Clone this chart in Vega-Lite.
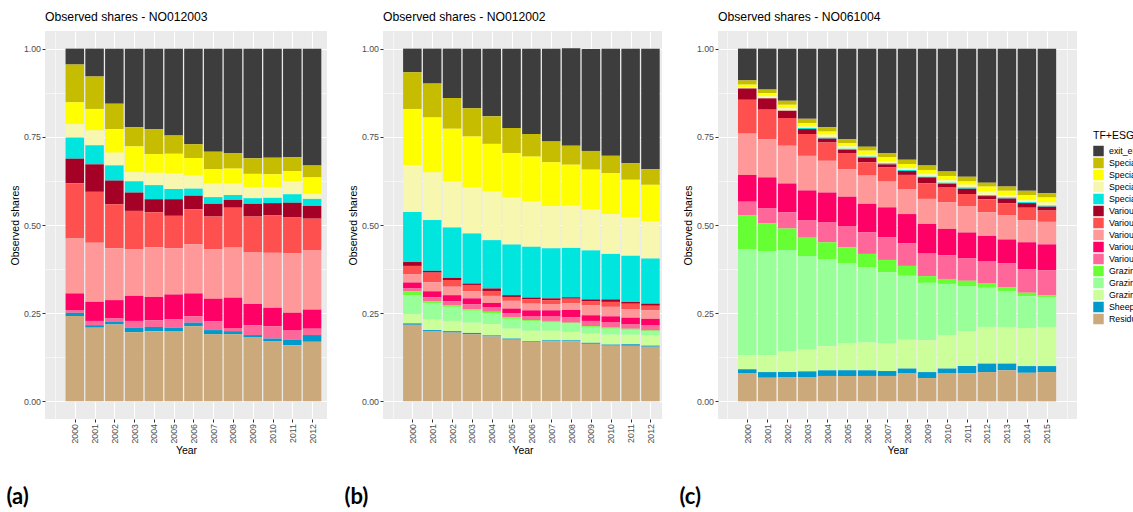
{
  "$schema": "https://vega.github.io/schema/vega-lite/v6.json",
  "background": "white",
  "padding": {"left": 6, "top": 10, "right": 0, "bottom": 0},
  "spacing": 17,
  "config": {
    "font": "Liberation Sans",
    "view": {"fill": "#EBEBEB", "stroke": null},
    "axis": {
      "domain": false,
      "gridColor": "white",
      "tickColor": "#333333",
      "tickSize": 3,
      "tickWidth": 1,
      "labelColor": "#4D4D4D",
      "labelFontSize": 8.8,
      "labelPadding": 1.5,
      "labelOverlap": false,
      "labelFlush": false,
      "titleColor": "black",
      "titleFontSize": 10.5,
      "titleFontWeight": "normal"
    },
    "title": {"fontSize": 12.2, "fontWeight": "normal", "color": "black", "anchor": "start", "frame": "group", "offset": 8},
    "legend": {
      "orient": "none",
      "legendX": 1048,
      "legendY": 100,
      "titleFontSize": 10.5,
      "titleFontWeight": "normal",
      "titleColor": "black",
      "labelFontSize": 8.8,
      "labelColor": "black",
      "symbolType": "square",
      "symbolSize": 110,
      "symbolStrokeWidth": 0,
      "rowPadding": 1,
      "titlePadding": 4,
      "labelOffset": 5
    }
  },
  "datasets": {
    "groups": [
      {"key": "exit", "label": "exit_entry", "rank": 15},
      {"key": "spec1", "label": "Specialist field crops, large", "rank": 14},
      {"key": "spec2", "label": "Specialist field crops, medium", "rank": 13},
      {"key": "spec3", "label": "Specialist field crops, small", "rank": 12},
      {"key": "spec4", "label": "Specialist horticulture", "rank": 11},
      {"key": "var1", "label": "Various crops, large", "rank": 10},
      {"key": "var2", "label": "Various crops, medium", "rank": 9},
      {"key": "var3", "label": "Various crops, small", "rank": 8},
      {"key": "var4", "label": "Various livestock, large", "rank": 7},
      {"key": "var5", "label": "Various livestock, small", "rank": 6},
      {"key": "graz1", "label": "Grazing livestock, large", "rank": 5},
      {"key": "graz2", "label": "Grazing livestock, medium", "rank": 4},
      {"key": "graz3", "label": "Grazing livestock, small", "rank": 3},
      {"key": "sheep", "label": "Sheep and goats", "rank": 2},
      {"key": "resid", "label": "Residual", "rank": 1}
    ],
    "NO012003": [
      {"year": 2000, "exit": 0.045, "spec1": 0.107, "spec2": 0.062, "spec3": 0.038, "spec4": 0.060, "var1": 0.070, "var2": 0.156, "var3": 0.156, "var4": 0.047, "var5": 0.008, "graz1": 0, "graz2": 0, "graz3": 0, "sheep": 0.009, "resid": 0.242},
      {"year": 2001, "exit": 0.079, "spec1": 0.092, "spec2": 0.061, "spec3": 0.042, "spec4": 0.054, "var1": 0.078, "var2": 0.144, "var3": 0.168, "var4": 0.054, "var5": 0.012, "graz1": 0, "graz2": 0, "graz3": 0, "sheep": 0.007, "resid": 0.209},
      {"year": 2002, "exit": 0.156, "spec1": 0.072, "spec2": 0.067, "spec3": 0.036, "spec4": 0.043, "var1": 0.067, "var2": 0.125, "var3": 0.147, "var4": 0.052, "var5": 0.010, "graz1": 0, "graz2": 0, "graz3": 0, "sheep": 0.007, "resid": 0.218},
      {"year": 2003, "exit": 0.223, "spec1": 0.054, "spec2": 0.073, "spec3": 0.026, "spec4": 0.032, "var1": 0.052, "var2": 0.109, "var3": 0.132, "var4": 0.071, "var5": 0.019, "graz1": 0, "graz2": 0, "graz3": 0, "sheep": 0.013, "resid": 0.196},
      {"year": 2004, "exit": 0.228, "spec1": 0.071, "spec2": 0.053, "spec3": 0.035, "spec4": 0.040, "var1": 0.037, "var2": 0.099, "var3": 0.141, "var4": 0.066, "var5": 0.019, "graz1": 0, "graz2": 0, "graz3": 0, "sheep": 0.012, "resid": 0.199},
      {"year": 2005, "exit": 0.246, "spec1": 0.052, "spec2": 0.055, "spec3": 0.045, "spec4": 0.029, "var1": 0.047, "var2": 0.092, "var3": 0.131, "var4": 0.070, "var5": 0.024, "graz1": 0, "graz2": 0, "graz3": 0, "sheep": 0.011, "resid": 0.198},
      {"year": 2006, "exit": 0.271, "spec1": 0.039, "spec2": 0.050, "spec3": 0.037, "spec4": 0.020, "var1": 0.038, "var2": 0.100, "var3": 0.139, "var4": 0.065, "var5": 0.018, "graz1": 0, "graz2": 0, "graz3": 0, "sheep": 0.010, "resid": 0.213},
      {"year": 2007, "exit": 0.292, "spec1": 0.050, "spec2": 0.040, "spec3": 0.039, "spec4": 0.019, "var1": 0.036, "var2": 0.093, "var3": 0.140, "var4": 0.064, "var5": 0.025, "graz1": 0, "graz2": 0, "graz3": 0, "sheep": 0.012, "resid": 0.190},
      {"year": 2008, "exit": 0.296, "spec1": 0.044, "spec2": 0.042, "spec3": 0.033, "spec4": 0.014, "var1": 0.022, "var2": 0.113, "var3": 0.142, "var4": 0.086, "var5": 0.009, "graz1": 0, "graz2": 0, "graz3": 0, "sheep": 0.009, "resid": 0.190},
      {"year": 2009, "exit": 0.311, "spec1": 0.044, "spec2": 0.038, "spec3": 0.031, "spec4": 0.016, "var1": 0.036, "var2": 0.102, "var3": 0.146, "var4": 0.060, "var5": 0.028, "graz1": 0, "graz2": 0, "graz3": 0, "sheep": 0.007, "resid": 0.181},
      {"year": 2010, "exit": 0.309, "spec1": 0.047, "spec2": 0.037, "spec3": 0.030, "spec4": 0.015, "var1": 0.034, "var2": 0.107, "var3": 0.156, "var4": 0.052, "var5": 0.035, "graz1": 0, "graz2": 0, "graz3": 0, "sheep": 0.007, "resid": 0.171},
      {"year": 2011, "exit": 0.308, "spec1": 0.039, "spec2": 0.028, "spec3": 0.038, "spec4": 0.024, "var1": 0.042, "var2": 0.101, "var3": 0.169, "var4": 0.049, "var5": 0.027, "graz1": 0, "graz2": 0, "graz3": 0, "sheep": 0.016, "resid": 0.159},
      {"year": 2012, "exit": 0.331, "spec1": 0.034, "spec2": 0.047, "spec3": 0.014, "spec4": 0.020, "var1": 0.036, "var2": 0.089, "var3": 0.169, "var4": 0.054, "var5": 0.018, "graz1": 0, "graz2": 0, "graz3": 0, "sheep": 0.019, "resid": 0.169}
    ],
    "NO012002": [
      {"year": 2000, "exit": 0.067, "spec1": 0.104, "spec2": 0.159, "spec3": 0.133, "spec4": 0.142, "var1": 0.011, "var2": 0.023, "var3": 0.024, "var4": 0.017, "var5": 0.008, "graz1": 0.011, "graz2": 0.054, "graz3": 0.026, "sheep": 0.004, "resid": 0.217},
      {"year": 2001, "exit": 0.099, "spec1": 0.096, "spec2": 0.156, "spec3": 0.135, "spec4": 0.144, "var1": 0.005, "var2": 0.027, "var3": 0.026, "var4": 0.017, "var5": 0.011, "graz1": 0.005, "graz2": 0.047, "graz3": 0.030, "sheep": 0.004, "resid": 0.198},
      {"year": 2002, "exit": 0.140, "spec1": 0.087, "spec2": 0.150, "spec3": 0.130, "spec4": 0.143, "var1": 0.006, "var2": 0.019, "var3": 0.024, "var4": 0.017, "var5": 0.011, "graz1": 0.005, "graz2": 0.040, "graz3": 0.029, "sheep": 0.004, "resid": 0.195},
      {"year": 2003, "exit": 0.169, "spec1": 0.080, "spec2": 0.145, "spec3": 0.130, "spec4": 0.142, "var1": 0.004, "var2": 0.018, "var3": 0.020, "var4": 0.017, "var5": 0.014, "graz1": 0.004, "graz2": 0.034, "graz3": 0.029, "sheep": 0.004, "resid": 0.190},
      {"year": 2004, "exit": 0.192, "spec1": 0.078, "spec2": 0.135, "spec3": 0.138, "spec4": 0.137, "var1": 0.007, "var2": 0.014, "var3": 0.020, "var4": 0.013, "var5": 0.012, "graz1": 0.005, "graz2": 0.030, "graz3": 0.032, "sheep": 0.003, "resid": 0.184},
      {"year": 2005, "exit": 0.225, "spec1": 0.071, "spec2": 0.126, "spec3": 0.133, "spec4": 0.144, "var1": 0.005, "var2": 0.011, "var3": 0.022, "var4": 0.014, "var5": 0.011, "graz1": 0.004, "graz2": 0.028, "graz3": 0.028, "sheep": 0.003, "resid": 0.175},
      {"year": 2006, "exit": 0.242, "spec1": 0.064, "spec2": 0.127, "spec3": 0.129, "spec4": 0.144, "var1": 0.004, "var2": 0.013, "var3": 0.019, "var4": 0.016, "var5": 0.012, "graz1": 0.003, "graz2": 0.027, "graz3": 0.029, "sheep": 0.002, "resid": 0.169},
      {"year": 2007, "exit": 0.263, "spec1": 0.059, "spec2": 0.124, "spec3": 0.120, "spec4": 0.142, "var1": 0.005, "var2": 0.011, "var3": 0.018, "var4": 0.016, "var5": 0.014, "graz1": 0.003, "graz2": 0.025, "graz3": 0.027, "sheep": 0.003, "resid": 0.170},
      {"year": 2008, "exit": 0.276, "spec1": 0.054, "spec2": 0.116, "spec3": 0.120, "spec4": 0.140, "var1": 0.004, "var2": 0.013, "var3": 0.019, "var4": 0.021, "var5": 0.015, "graz1": 0.002, "graz2": 0.024, "graz3": 0.024, "sheep": 0.003, "resid": 0.170},
      {"year": 2009, "exit": 0.289, "spec1": 0.053, "spec2": 0.113, "spec3": 0.116, "spec4": 0.139, "var1": 0.006, "var2": 0.011, "var3": 0.028, "var4": 0.016, "var5": 0.015, "graz1": 0.004, "graz2": 0.017, "graz3": 0.026, "sheep": 0.003, "resid": 0.163},
      {"year": 2010, "exit": 0.304, "spec1": 0.049, "spec2": 0.116, "spec3": 0.113, "spec4": 0.129, "var1": 0.007, "var2": 0.014, "var3": 0.027, "var4": 0.016, "var5": 0.016, "graz1": 0.003, "graz2": 0.017, "graz3": 0.028, "sheep": 0.003, "resid": 0.158},
      {"year": 2011, "exit": 0.325, "spec1": 0.047, "spec2": 0.106, "spec3": 0.109, "spec4": 0.131, "var1": 0.005, "var2": 0.015, "var3": 0.025, "var4": 0.019, "var5": 0.012, "graz1": 0.003, "graz2": 0.014, "graz3": 0.027, "sheep": 0.004, "resid": 0.158},
      {"year": 2012, "exit": 0.342, "spec1": 0.044, "spec2": 0.103, "spec3": 0.106, "spec4": 0.128, "var1": 0.006, "var2": 0.013, "var3": 0.024, "var4": 0.019, "var5": 0.014, "graz1": 0.003, "graz2": 0.011, "graz3": 0.029, "sheep": 0.003, "resid": 0.155}
    ],
    "NO061004": [
      {"year": 2000, "exit": 0.090, "spec1": 0.012, "spec2": 0.007, "spec3": 0.004, "spec4": 0, "var1": 0.032, "var2": 0.096, "var3": 0.117, "var4": 0.076, "var5": 0.038, "graz1": 0.096, "graz2": 0.301, "graz3": 0.040, "sheep": 0.012, "resid": 0.079},
      {"year": 2001, "exit": 0.116, "spec1": 0.010, "spec2": 0.009, "spec3": 0.006, "spec4": 0, "var1": 0.032, "var2": 0.084, "var3": 0.108, "var4": 0.087, "var5": 0.043, "graz1": 0.079, "graz2": 0.295, "graz3": 0.048, "sheep": 0.016, "resid": 0.067},
      {"year": 2002, "exit": 0.148, "spec1": 0.011, "spec2": 0.010, "spec3": 0.007, "spec4": 0, "var1": 0.021, "var2": 0.078, "var3": 0.107, "var4": 0.082, "var5": 0.046, "graz1": 0.061, "graz2": 0.287, "graz3": 0.059, "sheep": 0.014, "resid": 0.069},
      {"year": 2003, "exit": 0.199, "spec1": 0.012, "spec2": 0.010, "spec3": 0.004, "spec4": 0.003, "var1": 0.014, "var2": 0.062, "var3": 0.098, "var4": 0.084, "var5": 0.050, "graz1": 0.052, "graz2": 0.265, "graz3": 0.062, "sheep": 0.016, "resid": 0.069},
      {"year": 2004, "exit": 0.223, "spec1": 0.012, "spec2": 0.009, "spec3": 0.008, "spec4": 0.003, "var1": 0.011, "var2": 0.052, "var3": 0.090, "var4": 0.085, "var5": 0.056, "graz1": 0.049, "graz2": 0.246, "graz3": 0.068, "sheep": 0.016, "resid": 0.072},
      {"year": 2005, "exit": 0.256, "spec1": 0.012, "spec2": 0.009, "spec3": 0.007, "spec4": 0.003, "var1": 0.009, "var2": 0.046, "var3": 0.078, "var4": 0.083, "var5": 0.060, "graz1": 0.046, "graz2": 0.227, "graz3": 0.076, "sheep": 0.016, "resid": 0.072},
      {"year": 2006, "exit": 0.278, "spec1": 0.011, "spec2": 0.012, "spec3": 0.005, "spec4": 0.003, "var1": 0.013, "var2": 0.038, "var3": 0.080, "var4": 0.081, "var5": 0.061, "graz1": 0.038, "graz2": 0.213, "graz3": 0.079, "sheep": 0.016, "resid": 0.072},
      {"year": 2007, "exit": 0.296, "spec1": 0.012, "spec2": 0.012, "spec3": 0.005, "spec4": 0.003, "var1": 0.009, "var2": 0.040, "var3": 0.073, "var4": 0.085, "var5": 0.064, "graz1": 0.035, "graz2": 0.202, "graz3": 0.078, "sheep": 0.014, "resid": 0.072},
      {"year": 2008, "exit": 0.315, "spec1": 0.012, "spec2": 0.012, "spec3": 0.005, "spec4": 0.003, "var1": 0.011, "var2": 0.040, "var3": 0.071, "var4": 0.083, "var5": 0.064, "graz1": 0.028, "graz2": 0.181, "graz3": 0.082, "sheep": 0.014, "resid": 0.079},
      {"year": 2009, "exit": 0.331, "spec1": 0.013, "spec2": 0.011, "spec3": 0.008, "spec4": 0.002, "var1": 0.017, "var2": 0.044, "var3": 0.071, "var4": 0.084, "var5": 0.064, "graz1": 0.019, "graz2": 0.163, "graz3": 0.090, "sheep": 0.017, "resid": 0.066},
      {"year": 2010, "exit": 0.348, "spec1": 0.013, "spec2": 0.012, "spec3": 0.007, "spec4": 0.003, "var1": 0.011, "var2": 0.041, "var3": 0.076, "var4": 0.075, "var5": 0.067, "graz1": 0.014, "graz2": 0.145, "graz3": 0.095, "sheep": 0.014, "resid": 0.079},
      {"year": 2011, "exit": 0.363, "spec1": 0.014, "spec2": 0.009, "spec3": 0.008, "spec4": 0.003, "var1": 0.015, "var2": 0.034, "var3": 0.075, "var4": 0.074, "var5": 0.063, "graz1": 0.015, "graz2": 0.128, "graz3": 0.099, "sheep": 0.020, "resid": 0.080},
      {"year": 2012, "exit": 0.380, "spec1": 0.011, "spec2": 0.014, "spec3": 0.010, "spec4": 0.003, "var1": 0.009, "var2": 0.037, "var3": 0.067, "var4": 0.071, "var5": 0.064, "graz1": 0.012, "graz2": 0.111, "graz3": 0.104, "sheep": 0.024, "resid": 0.083},
      {"year": 2013, "exit": 0.391, "spec1": 0.012, "spec2": 0.012, "spec3": 0.007, "spec4": 0.003, "var1": 0.013, "var2": 0.035, "var3": 0.068, "var4": 0.068, "var5": 0.068, "graz1": 0.010, "graz2": 0.102, "graz3": 0.104, "sheep": 0.019, "resid": 0.088},
      {"year": 2014, "exit": 0.403, "spec1": 0.012, "spec2": 0.014, "spec3": 0.006, "spec4": 0.003, "var1": 0.013, "var2": 0.035, "var3": 0.063, "var4": 0.077, "var5": 0.066, "graz1": 0.010, "graz2": 0.090, "graz3": 0.108, "sheep": 0.019, "resid": 0.081},
      {"year": 2015, "exit": 0.410, "spec1": 0.012, "spec2": 0.014, "spec3": 0.009, "spec4": 0.003, "var1": 0.011, "var2": 0.032, "var3": 0.064, "var4": 0.073, "var5": 0.071, "graz1": 0.005, "graz2": 0.085, "graz3": 0.111, "sheep": 0.017, "resid": 0.083}
    ]
  },
  "hconcat": [
    {
      "title": {"text": "(a)", "orient": "bottom", "anchor": "start", "frame": "bounds", "fontSize": 22, "fontWeight": "bold", "font": "Lato", "offset": 31, "dx": -4, "color": "black"},
      "vconcat": [
        {
          "width": 282,
          "height": 388,
          "title": "Observed shares - NO012003",
          "data": {"name": "NO012003"},
          "transform": [
            {"fold": ["exit", "spec1", "spec2", "spec3", "spec4", "var1", "var2", "var3", "var4", "var5", "graz1", "graz2", "graz3", "sheep", "resid"], "as": ["key", "share"]},
            {"lookup": "key", "from": {"data": {"name": "groups"}, "key": "key", "fields": ["label", "rank"]}}
          ],
          "mark": {"type": "bar", "width": 18.5, "clip": true},
          "encoding": {
            "x": {
              "field": "year", "type": "quantitative",
              "scale": {"domain": [1998.746, 2012.502], "nice": false, "zero": false},
              "axis": {
                "title": "Year", "format": "d", "labelAngle": 270, "titlePadding": 2,
                "values": [1999, 1999.5, 2000, 2000.5, 2001, 2001.5, 2002, 2002.5, 2003, 2003.5, 2004, 2004.5, 2005, 2005.5, 2006, 2006.5, 2007, 2007.5, 2008, 2008.5, 2009, 2009.5, 2010, 2010.5, 2011, 2011.5, 2012, 2012.5],
                "labelExpr": "(datum.value % 1 != 0 || datum.value < 2000) ? '' : datum.label",
                "tickOpacity": {"condition": {"test": "datum.value % 1 != 0 || datum.value < 2000", "value": 0}, "value": 1},
                "gridWidth": {"condition": {"test": "datum.value % 1 != 0 || datum.value < 2000", "value": 0.55}, "value": 1.1}
              }
            },
            "y": {
              "field": "share", "type": "quantitative", "stack": "zero",
              "scale": {"domain": [-0.05, 1.05], "nice": false, "zero": false},
              "axis": {
                "title": "Observed shares", "format": ".2f", "titlePadding": 3,
                "values": [0, 0.125, 0.25, 0.375, 0.5, 0.625, 0.75, 0.875, 1],
                "labelExpr": "datum.value % 0.25 != 0 ? '' : datum.label",
                "tickOpacity": {"condition": {"test": "datum.value % 0.25 != 0", "value": 0}, "value": 1},
                "gridWidth": {"condition": {"test": "datum.value % 0.25 != 0", "value": 0.55}, "value": 1.1}
              }
            },
            "color": {
              "field": "label", "type": "nominal",
              "sort": ["exit_entry", "Specialist field crops, large", "Specialist field crops, medium", "Specialist field crops, small", "Specialist horticulture", "Various crops, large", "Various crops, medium", "Various crops, small", "Various livestock, large", "Various livestock, small", "Grazing livestock, large", "Grazing livestock, medium", "Grazing livestock, small", "Sheep and goats", "Residual"],
              "scale": {
                "domain": ["exit_entry", "Specialist field crops, large", "Specialist field crops, medium", "Specialist field crops, small", "Specialist horticulture", "Various crops, large", "Various crops, medium", "Various crops, small", "Various livestock, large", "Various livestock, small", "Grazing livestock, large", "Grazing livestock, medium", "Grazing livestock, small", "Sheep and goats", "Residual"],
                "range": ["#3D3D3D", "#C6BD00", "#FFFF00", "#F7F7B0", "#00E5DE", "#A50026", "#FF5050", "#FF9999", "#FF0066", "#FF6699", "#66FF33", "#99FF99", "#CCFF99", "#0099CC", "#CCA97B"]
              },
              "legend": {"title": "TF+ESG"}
            },
            "order": {"field": "rank", "type": "quantitative", "sort": "ascending"}
          }
        }
      ]
    },
    {
      "title": {"text": "(b)", "orient": "bottom", "anchor": "start", "frame": "bounds", "fontSize": 22, "fontWeight": "bold", "font": "Lato", "offset": 31, "dx": -4, "color": "black"},
      "vconcat": [
        {
          "width": 279,
          "height": 388,
          "title": "Observed shares - NO012002",
          "data": {"name": "NO012002"},
          "transform": [
            {"fold": ["exit", "spec1", "spec2", "spec3", "spec4", "var1", "var2", "var3", "var4", "var5", "graz1", "graz2", "graz3", "sheep", "resid"], "as": ["key", "share"]},
            {"lookup": "key", "from": {"data": {"name": "groups"}, "key": "key", "fields": ["label", "rank"]}}
          ],
          "mark": {"type": "bar", "width": 18.5, "clip": true},
          "encoding": {
            "x": {
              "field": "year", "type": "quantitative",
              "scale": {"domain": [1998.773, 2012.33], "nice": false, "zero": false},
              "axis": {
                "title": "Year", "format": "d", "labelAngle": 270, "titlePadding": 2,
                "values": [1999, 1999.5, 2000, 2000.5, 2001, 2001.5, 2002, 2002.5, 2003, 2003.5, 2004, 2004.5, 2005, 2005.5, 2006, 2006.5, 2007, 2007.5, 2008, 2008.5, 2009, 2009.5, 2010, 2010.5, 2011, 2011.5, 2012],
                "labelExpr": "(datum.value % 1 != 0 || datum.value < 2000) ? '' : datum.label",
                "tickOpacity": {"condition": {"test": "datum.value % 1 != 0 || datum.value < 2000", "value": 0}, "value": 1},
                "gridWidth": {"condition": {"test": "datum.value % 1 != 0 || datum.value < 2000", "value": 0.55}, "value": 1.1}
              }
            },
            "y": {
              "field": "share", "type": "quantitative", "stack": "zero",
              "scale": {"domain": [-0.05, 1.05], "nice": false, "zero": false},
              "axis": {
                "title": "Observed shares", "format": ".2f", "titlePadding": 3,
                "values": [0, 0.125, 0.25, 0.375, 0.5, 0.625, 0.75, 0.875, 1],
                "labelExpr": "datum.value % 0.25 != 0 ? '' : datum.label",
                "tickOpacity": {"condition": {"test": "datum.value % 0.25 != 0", "value": 0}, "value": 1},
                "gridWidth": {"condition": {"test": "datum.value % 0.25 != 0", "value": 0.55}, "value": 1.1}
              }
            },
            "color": {
              "field": "label", "type": "nominal",
              "sort": ["exit_entry", "Specialist field crops, large", "Specialist field crops, medium", "Specialist field crops, small", "Specialist horticulture", "Various crops, large", "Various crops, medium", "Various crops, small", "Various livestock, large", "Various livestock, small", "Grazing livestock, large", "Grazing livestock, medium", "Grazing livestock, small", "Sheep and goats", "Residual"],
              "scale": {
                "domain": ["exit_entry", "Specialist field crops, large", "Specialist field crops, medium", "Specialist field crops, small", "Specialist horticulture", "Various crops, large", "Various crops, medium", "Various crops, small", "Various livestock, large", "Various livestock, small", "Grazing livestock, large", "Grazing livestock, medium", "Grazing livestock, small", "Sheep and goats", "Residual"],
                "range": ["#3D3D3D", "#C6BD00", "#FFFF00", "#F7F7B0", "#00E5DE", "#A50026", "#FF5050", "#FF9999", "#FF0066", "#FF6699", "#66FF33", "#99FF99", "#CCFF99", "#0099CC", "#CCA97B"]
              },
              "legend": {"title": "TF+ESG"}
            },
            "order": {"field": "rank", "type": "quantitative", "sort": "ascending"}
          }
        }
      ]
    },
    {
      "title": {"text": "(c)", "orient": "bottom", "anchor": "start", "frame": "bounds", "fontSize": 22, "fontWeight": "bold", "font": "Lato", "offset": 31, "dx": -4, "color": "black"},
      "vconcat": [
        {
          "width": 359,
          "height": 388,
          "title": "Observed shares - NO061004",
          "data": {"name": "NO061004"},
          "transform": [
            {"fold": ["exit", "spec1", "spec2", "spec3", "spec4", "var1", "var2", "var3", "var4", "var5", "graz1", "graz2", "graz3", "sheep", "resid"], "as": ["key", "share"]},
            {"lookup": "key", "from": {"data": {"name": "groups"}, "key": "key", "fields": ["label", "rank"]}}
          ],
          "mark": {"type": "bar", "width": 18.5, "clip": true},
          "encoding": {
            "x": {
              "field": "year", "type": "quantitative",
              "scale": {"domain": [1998.786, 2016.256], "nice": false, "zero": false},
              "axis": {
                "title": "Year", "format": "d", "labelAngle": 270, "titlePadding": 2,
                "values": [1999, 1999.5, 2000, 2000.5, 2001, 2001.5, 2002, 2002.5, 2003, 2003.5, 2004, 2004.5, 2005, 2005.5, 2006, 2006.5, 2007, 2007.5, 2008, 2008.5, 2009, 2009.5, 2010, 2010.5, 2011, 2011.5, 2012, 2012.5, 2013, 2013.5, 2014, 2014.5, 2015, 2015.5, 2016],
                "labelExpr": "(datum.value % 1 != 0 || datum.value < 2000 || datum.value > 2015) ? '' : datum.label",
                "tickOpacity": {"condition": {"test": "datum.value % 1 != 0 || datum.value < 2000 || datum.value > 2015", "value": 0}, "value": 1},
                "gridWidth": {"condition": {"test": "datum.value % 1 != 0 || datum.value < 2000 || datum.value > 2015", "value": 0.55}, "value": 1.1}
              }
            },
            "y": {
              "field": "share", "type": "quantitative", "stack": "zero",
              "scale": {"domain": [-0.05, 1.05], "nice": false, "zero": false},
              "axis": {
                "title": "Observed shares", "format": ".2f", "titlePadding": 3,
                "values": [0, 0.125, 0.25, 0.375, 0.5, 0.625, 0.75, 0.875, 1],
                "labelExpr": "datum.value % 0.25 != 0 ? '' : datum.label",
                "tickOpacity": {"condition": {"test": "datum.value % 0.25 != 0", "value": 0}, "value": 1},
                "gridWidth": {"condition": {"test": "datum.value % 0.25 != 0", "value": 0.55}, "value": 1.1}
              }
            },
            "color": {
              "field": "label", "type": "nominal",
              "sort": ["exit_entry", "Specialist field crops, large", "Specialist field crops, medium", "Specialist field crops, small", "Specialist horticulture", "Various crops, large", "Various crops, medium", "Various crops, small", "Various livestock, large", "Various livestock, small", "Grazing livestock, large", "Grazing livestock, medium", "Grazing livestock, small", "Sheep and goats", "Residual"],
              "scale": {
                "domain": ["exit_entry", "Specialist field crops, large", "Specialist field crops, medium", "Specialist field crops, small", "Specialist horticulture", "Various crops, large", "Various crops, medium", "Various crops, small", "Various livestock, large", "Various livestock, small", "Grazing livestock, large", "Grazing livestock, medium", "Grazing livestock, small", "Sheep and goats", "Residual"],
                "range": ["#3D3D3D", "#C6BD00", "#FFFF00", "#F7F7B0", "#00E5DE", "#A50026", "#FF5050", "#FF9999", "#FF0066", "#FF6699", "#66FF33", "#99FF99", "#CCFF99", "#0099CC", "#CCA97B"]
              },
              "legend": {"title": "TF+ESG"}
            },
            "order": {"field": "rank", "type": "quantitative", "sort": "ascending"}
          }
        }
      ]
    }
  ]
}
